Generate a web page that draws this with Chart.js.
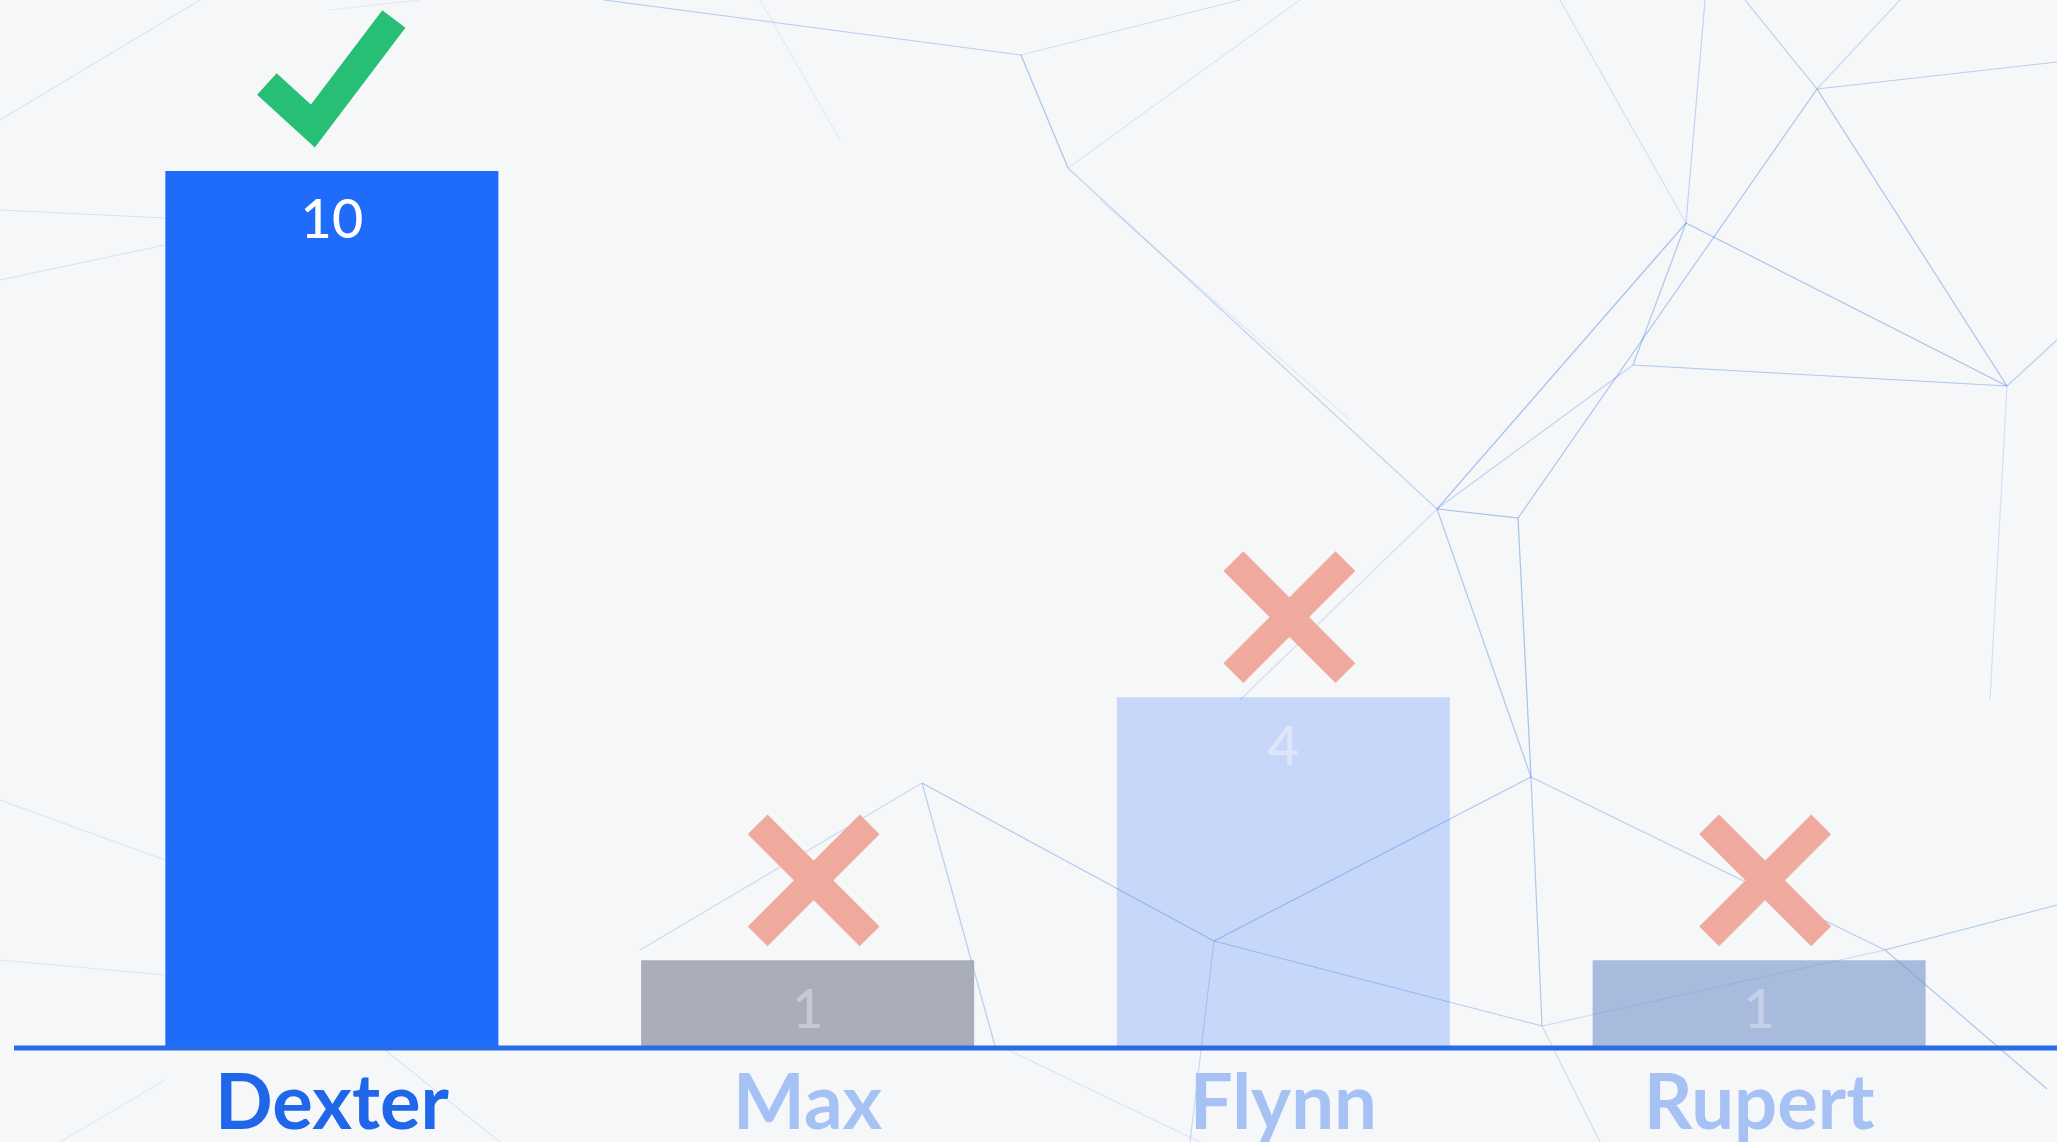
<!DOCTYPE html>
<html>
<head>
<meta charset="utf-8">
<script src="https://cdn.jsdelivr.net/npm/chart.js@4"></script>
<style>
  html, body { margin: 0; padding: 0; background: #f6f7f9; overflow: hidden; }
  canvas { display: block; }
</style>
</head>
<body>
<canvas id="voteChart" width="2057" height="1142"></canvas>
<script>
/* Данные графика */
const names = ["Dexter", "Max", "Flynn", "Rupert"];
const votes = [10, 1, 4, 1];
const verdicts = ["check", "cross", "cross", "cross"];

/* Цвета */
const barColors = ["#1f6bfa", "rgba(150, 154, 168, 0.8)", "rgba(30, 107, 250, 0.22)", "rgba(116, 147, 201, 0.6)"];
const nameColors = ["#1f66e8", "#a6c2f5", "#a6c2f5", "#a6c2f5"];
const valueColors = ["#ffffff", "#c6c9d1", "#dde7f9", "#c4d0e7"];

/* Фоновая «сеть» (только декор) */
const bgEdges = [
    [604, 0, 1021, 55, 0.35], [1021, 55, 1068, 168, 0.45], [1021, 55, 1240, 0, 0.2],
    [1068, 168, 1437, 509, 0.3], [1068, 168, 1300, 0, 0.15],
    [1817, 89, 2007, 386, 0.45], [1686, 223, 2007, 386, 0.45], [1633, 365, 2007, 386, 0.4],
    [1817, 89, 1518, 518, 0.45], [1686, 223, 1437, 509, 0.45], [1686, 223, 1633, 365, 0.4],
    [1437, 509, 1518, 518, 0.5], [1518, 518, 1531, 777, 0.45], [1437, 509, 1531, 777, 0.4],
    [1817, 89, 2057, 62, 0.35], [1817, 89, 1745, 0, 0.3], [1686, 223, 1705, 0, 0.3],
    [1817, 89, 1900, 0, 0.25], [1686, 223, 1560, 0, 0.2], [2007, 386, 2057, 340, 0.35],
    [1531, 777, 1214, 941, 0.4], [1214, 941, 922, 783, 0.4], [922, 783, 995, 1046, 0.35],
    [922, 783, 640, 950, 0.25], [1531, 777, 1542, 1026, 0.4], [1214, 941, 1542, 1026, 0.35],
    [1531, 777, 1885, 950, 0.35], [1885, 950, 2057, 905, 0.4], [1885, 950, 2047, 1089, 0.4],
    [1542, 1026, 1885, 950, 0.25], [1214, 941, 1190, 1142, 0.25], [1542, 1026, 1600, 1142, 0.2],
    [1437, 509, 1240, 700, 0.2], [1633, 365, 1437, 509, 0.3], [2007, 386, 1990, 700, 0.2],
    [0, 280, 165, 245, 0.18], [0, 210, 165, 218, 0.18], [0, 800, 165, 860, 0.15],
    [0, 960, 165, 975, 0.15], [165, 1080, 60, 1142, 0.12], [500, 1142, 380, 1046, 0.15],
    [1200, 1142, 1000, 1046, 0.15], [0, 120, 200, 0, 0.15], [330, 10, 420, 0, 0.12],
    [760, 0, 840, 140, 0.1], [1100, 200, 1350, 420, 0.12]
];

/* Фон и сеть линий */
const backgroundPlugin = {
    id: "background",
    beforeDraw(chart) {
        const ctx = chart.ctx;
        ctx.save();
        ctx.fillStyle = "#f6f7f9";
        ctx.fillRect(0, 0, chart.width, chart.height);
        ctx.lineWidth = 1.2;
        bgEdges.forEach(e => {
            ctx.strokeStyle = `rgba(70, 130, 225, ${e[4]})`;
            ctx.beginPath();
            ctx.moveTo(e[0], e[1]);
            ctx.lineTo(e[2], e[3]);
            ctx.stroke();
        });
        ctx.restore();
    }
};

/* Линия оси, значения и отметки над столбцами */
const overlayPlugin = {
    id: "overlay",
    afterDatasetsDraw(chart) {
        const ctx = chart.ctx;
        const meta = chart.getDatasetMeta(0);
        const baseY = chart.scales.y.getPixelForValue(0);

        ctx.save();

        // Ось — длинная синяя линия
        ctx.strokeStyle = "#2a6be6";
        ctx.lineWidth = 5;
        ctx.beginPath();
        ctx.moveTo(14, baseY);
        ctx.lineTo(chart.width, baseY);
        ctx.stroke();

        meta.data.forEach((bar, i) => {
            // Значение внутри столбца
            ctx.fillStyle = valueColors[i];
            ctx.font = "500 54px Lato";
            ctx.textAlign = "center";
            ctx.textBaseline = "middle";
            ctx.fillText(String(votes[i]), bar.x, bar.y + 50);

            // Галочка или крестик
            ctx.lineCap = "butt";
            ctx.lineJoin = "miter";
            if (verdicts[i] === "check") {
                ctx.strokeStyle = "#27bf76";
                ctx.lineWidth = 29;
                ctx.beginPath();
                ctx.moveTo(bar.x - 65, bar.y - 87);
                ctx.lineTo(bar.x - 19, bar.y - 45);
                ctx.lineTo(bar.x + 62, bar.y - 152);
                ctx.stroke();
            } else {
                const cx = bar.x + 6;
                const cy = bar.y - 80;
                const r = 56;
                ctx.strokeStyle = "#f0aa9d";
                ctx.lineWidth = 28;
                ctx.beginPath();
                ctx.moveTo(cx - r, cy - r);
                ctx.lineTo(cx + r, cy + r);
                ctx.moveTo(cx + r, cy - r);
                ctx.lineTo(cx - r, cy + r);
                ctx.stroke();
            }
        });

        ctx.restore();
    }
};

new Chart(document.getElementById("voteChart"), {
    type: "bar",
    data: {
        labels: names,
        datasets: [{
            data: votes,
            backgroundColor: barColors,
            borderWidth: 0,
            barPercentage: 0.7,
            categoryPercentage: 1.0
        }]
    },
    options: {
        responsive: false,
        animation: false,
        layout: { padding: { left: 94, right: 60, top: 171, bottom: -10 } },
        plugins: {
            legend: { display: false },
            tooltip: { enabled: false }
        },
        scales: {
            x: {
                grid: { display: false },
                border: { display: false },
                ticks: {
                    padding: 10,
                    color: c => nameColors[c.index],
                    font: { family: "Lato", size: 76, weight: "bold", lineHeight: 1.0 }
                }
            },
            y: {
                display: false,
                min: 0,
                max: 10
            }
        }
    },
    plugins: [backgroundPlugin, overlayPlugin]
});
</script>
</body>
</html>
